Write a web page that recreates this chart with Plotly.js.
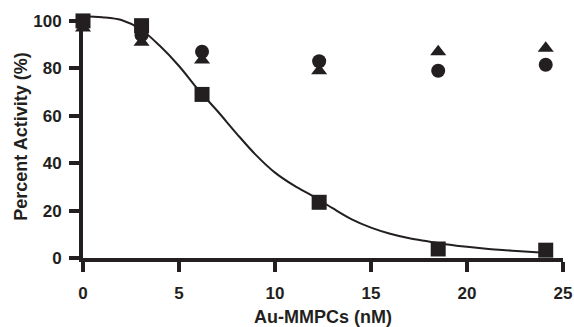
<!DOCTYPE html>
<html>
<head>
<meta charset="utf-8">
<script src="https://cdn.plot.ly/plotly-3.0.1.min.js"></script>
<style>html,body{margin:0;padding:0;background:#fff;}#chart{width:574px;height:327px;}</style>
</head>
<body>
<div id="chart"></div>
<script>
// Data
var doseX = [0, 3.05, 6.2, 12.3, 18.5, 24.1];
var squareY = [100, 98, 69, 23.5, 3.8, 3.3];
var circleY = [99, 94, 87, 83, 79, 81.5];
var triangleY = [97, 91, 83.5, 79, 87, 88.5];

var fitX = [0, 1, 2, 3, 4, 5, 6, 7, 8, 9, 10, 11, 12, 13, 14, 15, 16, 17, 18, 19, 20, 21, 22, 23, 24];
var fitY = [102, 101.6, 100.4, 96.5, 89.5, 81, 71, 62, 52.5, 43.5, 36, 30.5, 26, 21, 16.3, 12.8, 10.2, 8.3, 7, 5.7, 4.7, 3.9, 3.3, 2.7, 2.2];

var xTicks = [0, 5, 10, 15, 20, 25];
var yTicks = [0, 20, 40, 60, 80, 100];

var ink = '#231f20';
var fnt = 'Liberation Sans, Arial, sans-serif';

var traces = [
  {x: fitX, y: fitY, type: 'scatter', mode: 'lines', line: {color: ink, width: 2, shape: 'spline'}, hoverinfo: 'skip'},
  {x: doseX, y: triangleY, type: 'scatter', mode: 'markers', cliponaxis: false,
   marker: {symbol: 'triangle-up', size: 14, color: ink}},
  {x: doseX, y: circleY, type: 'scatter', mode: 'markers', cliponaxis: false,
   marker: {symbol: 'circle', size: 14, color: ink}},
  {x: doseX, y: squareY, type: 'scatter', mode: 'markers', cliponaxis: false,
   marker: {symbol: 'square', size: 15, color: ink}}
];

var layout = {
  width: 574, height: 327,
  margin: {l: 83, r: 11, t: 15, b: 69},
  paper_bgcolor: '#fff', plot_bgcolor: '#fff',
  showlegend: false,
  font: {family: fnt, color: ink},
  xaxis: {
    range: [0, 25], tickvals: xTicks, ticktext: xTicks.map(String),
    showgrid: false, zeroline: false, showline: true, linecolor: ink, linewidth: 4,
    ticks: 'outside', ticklen: 10, tickwidth: 4, tickcolor: ink,
    ticklabelstandoff: 7,
    tickfont: {family: fnt, size: 17, weight: 'bold', color: ink},
    layer: 'below traces',
    title: {text: 'Au-MMPCs (nM)', font: {family: fnt, size: 18, weight: 'bold', color: ink}, standoff: 11}
  },
  yaxis: {
    range: [0, 102.5], tickvals: yTicks, ticktext: yTicks.map(String),
    showgrid: false, zeroline: false, showline: true, linecolor: ink, linewidth: 4,
    ticks: 'outside', ticklen: 10, tickwidth: 4, tickcolor: ink,
    ticklabelstandoff: 4,
    tickfont: {family: fnt, size: 17, weight: 'bold', color: ink},
    layer: 'below traces',
    title: {text: 'Percent Activity (%)', font: {family: fnt, size: 18, weight: 'bold', color: ink}, standoff: 2}
  }
};

Plotly.newPlot('chart', traces, layout, {displayModeBar: false, staticPlot: true});
</script>
</body>
</html>
